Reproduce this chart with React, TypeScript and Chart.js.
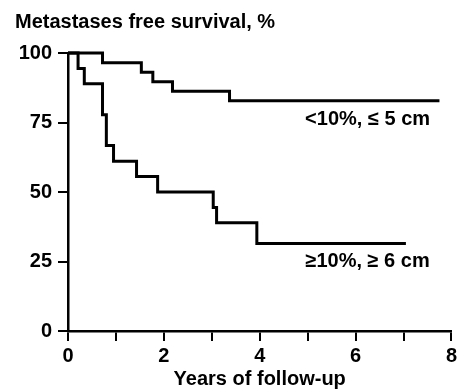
import React, { useEffect, useRef } from "react";
import { Chart, registerables } from "chart.js";

Chart.register(...registerables);

const chartTitle = "Metastases free survival, %";
const xAxisTitle = "Years of follow-up";
const groupNames = ["<10%, ≤ 5 cm", "≥10%, ≥ 6 cm"];

const lowRiskYears = [0, 0.72, 1.53, 1.77, 2.18, 3.37, 7.75];
const lowRiskSurvival = [100, 96.5, 93.1, 89.7, 86.2, 82.8, 82.8];

const highRiskYears = [0, 0.21, 0.34, 0.72, 0.8, 0.95, 1.43, 1.87, 3.03, 3.1, 3.94, 7.05];
const highRiskSurvival = [100, 94.4, 88.9, 77.8, 66.7, 61.1, 55.6, 50, 44.4, 38.9, 31.5, 31.5];

const yTickValues = [0, 25, 50, 75, 100];
const xLabelledTicks = [0, 2, 4, 6, 8];

const FONT_FAMILY = '"Liberation Sans", Arial, Helvetica, sans-serif';
const FONT_SIZE = 20;

export default function App() {
  const canvasRef = useRef<HTMLCanvasElement | null>(null);

  useEffect(() => {
    document.body.style.margin = "0";
    const canvas = canvasRef.current;
    if (!canvas) return;

    const toPoints = (xs: number[], ys: number[]) => xs.map((x, i) => ({ x, y: ys[i] }));

    const textPlugin = {
      id: "kmText",
      afterDraw(chart: any) {
        const { ctx, scales } = chart;
        ctx.save();
        ctx.fillStyle = "#000";
        ctx.font = `bold ${FONT_SIZE}px ${FONT_FAMILY}`;
        ctx.textAlign = "left";
        ctx.textBaseline = "alphabetic";
        ctx.fillText(chartTitle, 15, 28);
        ctx.textAlign = "center";
        ctx.textBaseline = "middle";
        const anchors = [
          { x: 6.25, y: 76 },
          { x: 6.25, y: 25 },
        ];
        groupNames.forEach((name, i) => {
          ctx.fillText(name, scales.x.getPixelForValue(anchors[i].x), scales.y.getPixelForValue(anchors[i].y));
        });
        ctx.restore();
      },
    };

    const chart = new Chart(canvas, {
      type: "line",
      data: {
        datasets: [
          {
            label: groupNames[0],
            data: toPoints(lowRiskYears, lowRiskSurvival),
            stepped: "before",
            borderColor: "#000",
            borderWidth: 3,
            pointRadius: 0,
            fill: false,
            clip: false as any,
          },
          {
            label: groupNames[1],
            data: toPoints(highRiskYears, highRiskSurvival),
            stepped: "before",
            borderColor: "#000",
            borderWidth: 3,
            pointRadius: 0,
            fill: false,
            clip: false as any,
          },
        ],
      },
      options: {
        animation: false,
        responsive: true,
        maintainAspectRatio: false,
        layout: { padding: { top: 53, right: 5, left: 0, bottom: 0 } },
        plugins: {
          legend: { display: false },
          tooltip: { enabled: false },
          title: { display: false },
        },
        scales: {
          x: {
            type: "linear",
            min: 0,
            max: 8,
            afterFit: (scale: any) => {
              scale.height = 59;
            },
            afterBuildTicks: (scale: any) => {
              scale.ticks = [0, 1, 2, 3, 4, 5, 6, 7, 8].map((v) => ({ value: v }));
            },
            ticks: {
              color: "#000",
              padding: 3,
              maxRotation: 0,
              autoSkip: false,
              font: { family: FONT_FAMILY, size: FONT_SIZE, weight: "bold" },
              callback: (v: any) => (xLabelledTicks.includes(Number(v)) ? String(v) : ""),
            },
            grid: {
              drawOnChartArea: false,
              drawTicks: true,
              tickLength: 10,
              color: "#000",
              lineWidth: 2,
            },
            border: { display: true, color: "#000", width: 2.5 },
            title: {
              display: true,
              text: xAxisTitle,
              color: "#000",
              padding: { top: 0, bottom: -1 },
              font: { family: FONT_FAMILY, size: FONT_SIZE, weight: "bold" },
            },
          },
          y: {
            type: "linear",
            min: 0,
            max: 100,
            afterFit: (scale: any) => {
              scale.width = 68;
            },
            afterBuildTicks: (scale: any) => {
              scale.ticks = yTickValues.map((v) => ({ value: v }));
            },
            ticks: {
              color: "#000",
              padding: 6,
              font: { family: FONT_FAMILY, size: FONT_SIZE, weight: "bold" },
            },
            grid: {
              drawOnChartArea: false,
              drawTicks: true,
              tickLength: 10,
              color: "#000",
              lineWidth: 2,
            },
            border: { display: true, color: "#000", width: 2.5 },
          },
        },
      },
      plugins: [textPlugin],
    });

    return () => {
      chart.destroy();
    };
  }, []);

  return (
    <div style={{ position: "relative", width: "460px", height: "390px" }}>
      <canvas ref={canvasRef} />
    </div>
  );
}
